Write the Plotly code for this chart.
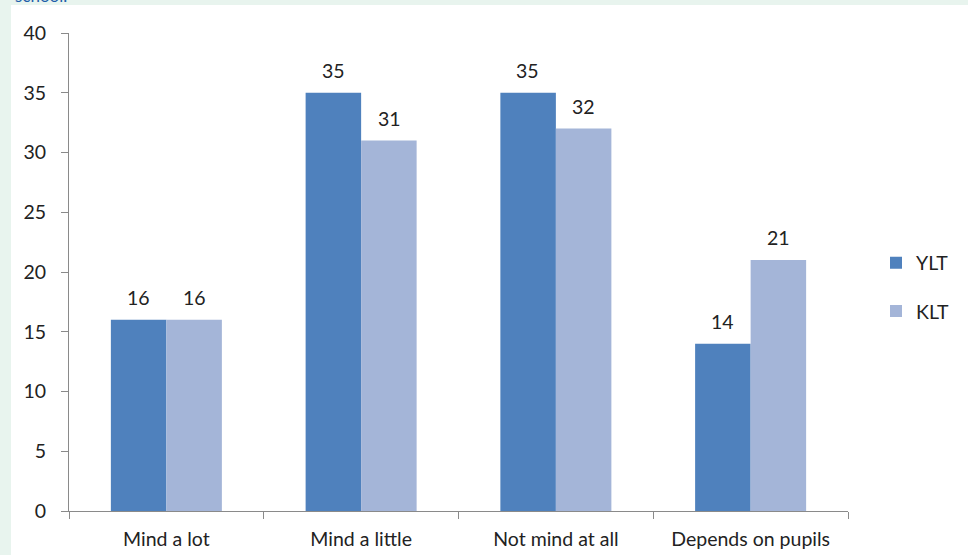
import plotly.graph_objects as go

categories = ["Mind a lot", "Mind a little", "Not mind at all", "Depends on pupils"]
ylt = [16, 35, 35, 14]
klt = [16, 31, 32, 21]
y_ticks = [0, 5, 10, 15, 20, 25, 30, 35, 40]

W, H = 968, 555
ml, mr, mt, mb = 69, 120, 33, 44
pw, ph = W - ml - mr, H - mt - mb

TXT = "#222222"
FS = 19.5
font = dict(family="Lato, 'Open Sans', sans-serif", size=FS, color=TXT)

fig = go.Figure()
fig.add_trace(go.Bar(name="YLT", x=categories, y=ylt, marker_color="#4F81BD",
                     marker_line_width=0, legendgroup="a"))
fig.add_trace(go.Bar(name="KLT", x=categories, y=klt, marker_color="#A4B5D8",
                     marker_line_width=0, legendgroup="b"))

# value labels above bars
for series, shift in ((ylt, -28), (klt, 28)):
    for c, v in zip(categories, series):
        fig.add_annotation(x=c, y=v, text=str(v), showarrow=False,
                           xshift=shift, yshift=9, yanchor="bottom",
                           font=dict(size=FS, color=TXT))

fig.add_shape(type="rect", xref="paper", yref="paper",
              x0=(11 - ml) / pw, x1=(W - ml) / pw,
              y0=-(mb + 5) / ph, y1=((H - mb) - 5) / ph,
              fillcolor="white", line_width=0, layer="below")

fig.add_annotation(text="school.", xref="paper", yref="paper",
                   x=(13 - ml) / pw, y=((H - mb) - 8) / ph,
                   xanchor="left", yanchor="bottom", showarrow=False,
                   font=dict(family="Lato, sans-serif", size=17, color="#1F5FAA"))

fig.update_layout(
    width=W, height=H,
    margin=dict(l=ml, r=mr, t=mt, b=mb, autoexpand=False),
    paper_bgcolor="#E8F4EE", plot_bgcolor="white",
    barmode="group", bargap=0.43, bargroupgap=0,
    font=font,
    showlegend=True,
    legend=dict(x=1.0 + 28 / pw, y=(511 - 287) / ph, xanchor="left", yanchor="middle",
                bgcolor="rgba(0,0,0,0)", font=dict(size=FS),
                itemwidth=30, tracegroupgap=20),
)
fig.update_xaxes(showline=True, linecolor="#8A8A8A", linewidth=1, automargin=False,
                 ticks="outside", tickson="boundaries", ticklen=7, tickcolor="#8A8A8A",
                 showgrid=False, tickfont=dict(size=FS), ticklabelstandoff=11)
fig.update_yaxes(range=[0, 40], tickvals=y_ticks, showline=True, linecolor="#8A8A8A",
                 linewidth=1, ticks="outside", ticklen=7, tickcolor="#8A8A8A", automargin=False,
                 showgrid=False, zeroline=False, tickfont=dict(size=FS),
                 ticklabelstandoff=11)

fig.write_html("out.html")
